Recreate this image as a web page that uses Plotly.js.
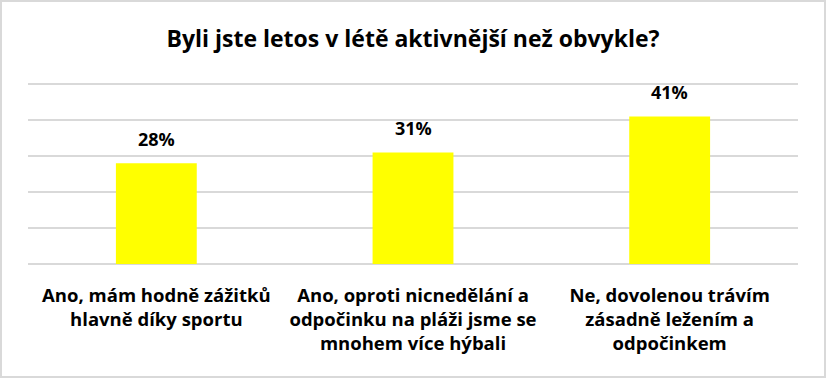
<!DOCTYPE html>
<html>
<head>
<meta charset="utf-8">
<script src="https://cdn.plot.ly/plotly-3.0.1.min.js"></script>
<style>
html,body{margin:0;padding:0;background:#fff;}
#wrap{position:relative;width:826px;height:378px;}
#chart{width:826px;height:378px;}
#frame{position:absolute;left:0;top:0;width:826px;height:378px;box-sizing:border-box;border:2px solid #d9d9d9;pointer-events:none;}
</style>
</head>
<body>
<div id="wrap"><div id="chart"></div><div id="frame"></div></div>
<script>
const titleText = "Byli jste letos v létě aktivnější než obvykle?";
const categories = [
  "Ano, mám hodně zážitků<br>hlavně díky sportu",
  "Ano, oproti nicnedělání a<br>odpočinku na pláži jsme se<br>mnohem více hýbali",
  "Ne, dovolenou trávím<br>zásadně ležením a<br>odpočinkem"
];
const values = [0.28, 0.31, 0.41];
const tickValues = [0, 0.1, 0.2, 0.3, 0.4, 0.5];

const font = "'Open Sans', Lato, sans-serif";

const trace = {
  type: "bar",
  x: categories,
  y: values,
  marker: {color: "#FFFF00"},
  hoverinfo: "skip"
};

const annotations = categories.map((c, i) => ({
  x: c,
  y: values[i],
  xref: "x",
  yref: "y",
  text: "<b>" + Math.round(values[i] * 100) + "%</b>",
  showarrow: false,
  yanchor: "bottom",
  xanchor: "center",
  yshift: 10,
  font: {family: font, size: 18, color: "#000"}
}));

const layout = {
  width: 826,
  height: 378,
  margin: {l: 28, r: 28, t: 82, b: 114},
  paper_bgcolor: "#fff",
  plot_bgcolor: "#fff",
  showlegend: false,
  bargap: 0.685,
  annotations: annotations,
  title: {
    text: "<b>" + titleText + "</b>",
    font: {family: font, size: 23, color: "#000"},
    x: 0.5, xanchor: "center",
    y: 1 - 39/378, yanchor: "middle", yref: "container"
  },
  xaxis: {
    type: "category",
    showgrid: false,
    showline: false,
    ticks: "",
    tickfont: {family: font, size: 18.5, color: "#000", weight: "bold"},
    ticklabelstandoff: 18
  },
  yaxis: {
    range: [0, 0.50556],
    tickvals: tickValues,
    showticklabels: false,
    showgrid: true,
    gridcolor: "#d9d9d9",
    gridwidth: 2,
    zeroline: true,
    zerolinecolor: "#d9d9d9",
    zerolinewidth: 2,
    showline: false,
    ticks: ""
  }
};

Plotly.newPlot("chart", [trace], layout, {displayModeBar: false, staticPlot: true});
</script>
</body>
</html>
